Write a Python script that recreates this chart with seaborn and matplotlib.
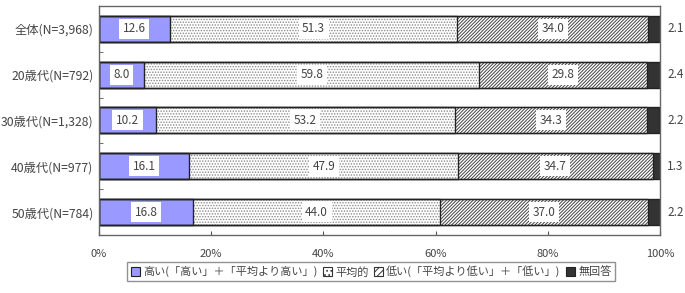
import matplotlib
matplotlib.use('Agg')
import matplotlib.pyplot as plt
from matplotlib.patches import Patch
from matplotlib.ticker import FixedLocator, PercentFormatter
import numpy as np
import pandas as pd
import seaborn as sns

categories = ['全体(N=3,968)', '20歳代(N=792)', '30歳代(N=1,328)', '40歳代(N=977)', '50歳代(N=784)']
series = ['高い(「高い」＋「平均より高い」)', '平均的', '低い(「平均より低い」＋「低い」)', '無回答']
high = [12.6, 8.0, 10.2, 16.1, 16.8]
average = [51.3, 59.8, 53.2, 47.9, 44.0]
low = [34.0, 29.8, 34.3, 34.7, 37.0]
no_answer = [2.1, 2.4, 2.2, 1.3, 2.2]

sns.set_style('white')
plt.rcParams['font.family'] = ['Noto Sans CJK JP', 'DejaVu Sans']
plt.rcParams['hatch.linewidth'] = 0.7

values = np.array([high, average, low, no_answer])
cum = values.cumsum(axis=0)

fills = ['#9999ff', 'white', 'white', '#333333']
hatches = [None, '......', '//////////', None]
edges = ['#222222', '#8a8a8a', '#444444', '#222222']

fig = plt.figure(figsize=(6.85, 2.93), dpi=100)
ax = fig.add_axes([0.1445, 0.198, 0.819, 0.782])

# stacked bars: draw cumulative totals from the longest back to the shortest
for i in range(3, -1, -1):
    df = pd.DataFrame({'cat': categories, 'val': cum[i]})
    n_before = len(ax.patches)
    sns.barplot(data=df, x='val', y='cat', color=fills[i], ax=ax, width=0.57,
                orient='h', edgecolor=edges[i], linewidth=0.8, hatch=hatches[i],
                saturation=1)
    for p in ax.patches[n_before:]:
        p.set_facecolor(fills[i])

# outline each segment in black
for i in range(4):
    df = pd.DataFrame({'cat': categories, 'val': cum[i]})
    sns.barplot(data=df, x='val', y='cat', ax=ax, width=0.57, orient='h',
                fill=False, edgecolor='#222222', linewidth=0.9)

# value labels
for j in range(len(categories)):
    for i in range(3):
        left = cum[i][j] - values[i][j]
        ax.text(left + values[i][j] / 2, j, f'{values[i][j]:.1f}', ha='center', va='center',
                fontsize=8.5, color='#444444',
                bbox=dict(boxstyle='square,pad=0.3', facecolor='white', edgecolor='none'))
    ax.text(101.3, j, f'{no_answer[j]:.1f}', ha='left', va='center', fontsize=8.5,
            color='#444444', clip_on=False)

ax.set_xlim(0, 100)
ax.set_ylim(4.5, -0.5)
ax.set_xlabel('')
ax.set_ylabel('')
ax.xaxis.set_major_locator(FixedLocator([0, 20, 40, 60, 80, 100]))
ax.xaxis.set_major_formatter(PercentFormatter(decimals=0))
ax.tick_params(axis='x', direction='in', length=3, pad=10, labelsize=8,
               labelcolor='#444444', color='#555555', bottom=True)
ax.tick_params(axis='y', which='major', length=0, pad=4, labelsize=8.8, labelcolor='#444444')
ax.yaxis.set_minor_locator(FixedLocator([0.5, 1.5, 2.5, 3.5]))
ax.tick_params(axis='y', which='minor', direction='in', length=3, color='#555555', left=True)
for s in ax.spines.values():
    s.set_visible(True)
    s.set_color('#666666')
    s.set_linewidth(1.0)

handles = [
    Patch(facecolor=fills[0], edgecolor='#222222', linewidth=0.8),
    Patch(facecolor='white', edgecolor='#333333', hatch='....', linewidth=0.8),
    Patch(facecolor='white', edgecolor='#333333', hatch='/////', linewidth=0.8),
    Patch(facecolor=fills[3], edgecolor='#222222', linewidth=0.8),
]
leg = fig.legend(handles, series, loc='center', bbox_to_anchor=(0.542, 0.073), ncol=4,
                 fontsize=8, frameon=True, fancybox=False, handlelength=0.8,
                 handleheight=0.8, handletextpad=0.3, columnspacing=0.5,
                 borderpad=0.3, labelcolor='#444444')
leg.get_frame().set_edgecolor('#777777')
leg.get_frame().set_linewidth(1.0)

fig.savefig('out.png', dpi=100)
